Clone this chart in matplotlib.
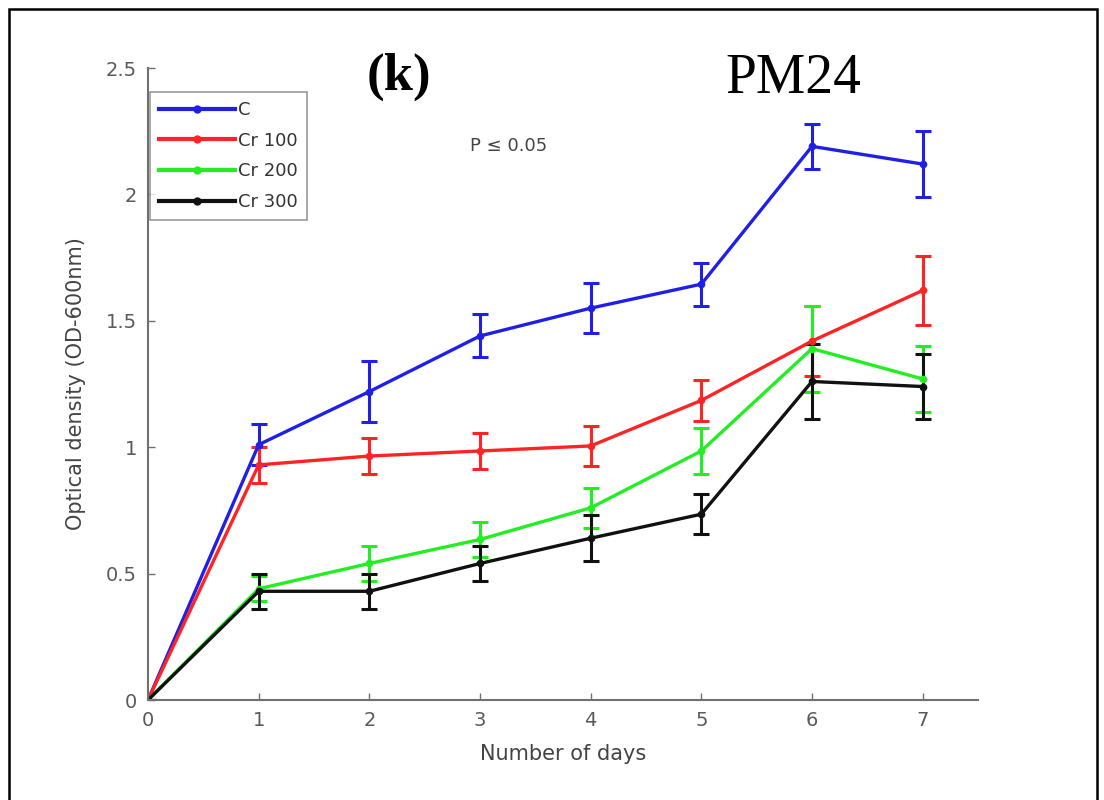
import matplotlib
matplotlib.use("Agg")
import matplotlib.pyplot as plt
from matplotlib.patches import Rectangle
from matplotlib.lines import Line2D

days = [0, 1, 2, 3, 4, 5, 6, 7]
series_names = ["C", "Cr 100", "Cr 200", "Cr 300"]
c_vals = [0, 1.01, 1.22, 1.44, 1.55, 1.645, 2.19, 2.12]
c_err = [0, 0.08, 0.12, 0.085, 0.10, 0.085, 0.09, 0.13]
cr100_vals = [0, 0.93, 0.965, 0.985, 1.005, 1.185, 1.42, 1.62]
cr100_err = [0, 0.07, 0.07, 0.07, 0.08, 0.08, 0.14, 0.135]
cr200_vals = [0, 0.44, 0.54, 0.635, 0.76, 0.985, 1.39, 1.27]
cr200_err = [0, 0.05, 0.07, 0.07, 0.08, 0.09, 0.17, 0.13]
cr300_vals = [0, 0.43, 0.43, 0.54, 0.64, 0.735, 1.26, 1.24]
cr300_err = [0, 0.07, 0.07, 0.07, 0.09, 0.08, 0.15, 0.13]
colors = ["#1f1fe8", "#ff2424", "#22ee22", "#111111"]
yticks = [0, 0.5, 1, 1.5, 2, 2.5]
ytick_labels = ["0", "0.5", "1", "1.5", "2", "2.5"]

fig = plt.figure(figsize=(11.04, 8), dpi=100)
ax = fig.add_axes([148/1104, 1-700/800, (978-148)/1104, (700-68)/800])

vals = [c_vals, cr100_vals, cr200_vals, cr300_vals]
errs = [c_err, cr100_err, cr200_err, cr300_err]
handles = []
for name, v, e, col in zip(series_names, vals, errs, colors):
    ax.errorbar(days, v, yerr=e, color=col, lw=2.4, marker='o', ms=4.5,
                capsize=6, capthick=2.2, elinewidth=2.2)
    handles.append(Line2D([], [], color=col, lw=3, marker='o', ms=5, label=name))

ax.set_xlim(0, 7.5)
ax.set_ylim(0, 2.5)
ax.set_xticks(days)
ax.set_xticklabels([str(d) for d in days])
ax.set_yticks(yticks)
ax.set_yticklabels(ytick_labels)
for s in ["top", "right"]:
    ax.spines[s].set_visible(False)
for s in ["left", "bottom"]:
    ax.spines[s].set_color("#707070")
    ax.spines[s].set_linewidth(1.5)
ax.tick_params(direction='in', length=5, width=1, colors="#707070",
               labelcolor="#5a5a5a", labelsize=14, pad=8)
for lab in ax.get_xticklabels() + ax.get_yticklabels():
    lab.set_family("DejaVu Sans")

ax.set_xlabel("Number of days", fontsize=15, color="#444444",
              family="DejaVu Sans", labelpad=10)
ax.set_ylabel("Optical density (OD-600nm)", fontsize=15, color="#444444",
              family="DejaVu Sans", labelpad=14)

leg = ax.legend(handles=handles, loc="upper left", bbox_to_anchor=(0.002, 0.962),
                fontsize=13, frameon=True, fancybox=False, edgecolor="#808080",
                handlelength=4.2, handletextpad=0.2, borderpad=0.5,
                labelspacing=0.7, borderaxespad=0)
leg.get_frame().set_linewidth(1.2)
for t in leg.get_texts():
    t.set_color("#333333")

fig.text(399/1104, 1-90/800, "(k)", fontsize=38, fontweight="bold",
         family="Liberation Serif", ha="center", va="baseline")
fig.text(793/1104, 1-93/800, "PM24", fontsize=40,
         family="Liberation Serif", ha="center", va="baseline")
fig.text(509/1104, 1-146/800, "P \u2264 0.05", fontsize=13, color="#444444",
         family="DejaVu Sans", ha="center", va="center")

fig.patches.append(Rectangle((9/1104, -0.02), (1097-9)/1104, 1.02-9/800,
                             transform=fig.transFigure, fill=False,
                             edgecolor="black", lw=1.8))

fig.savefig("out.png", dpi=100)
